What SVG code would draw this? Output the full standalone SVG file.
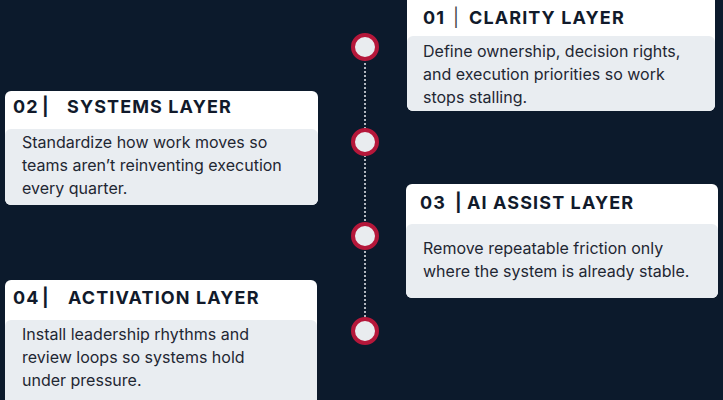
<svg xmlns="http://www.w3.org/2000/svg" width="723" height="400" viewBox="0 0 723 400">
<style>
.hd{fill:#fff}.bd{fill:#e9edf1}
.h{font-family:Inter,"Liberation Sans",sans-serif;font-weight:700;font-size:18px;fill:#111a2b;letter-spacing:1.1px}
.p{font-weight:400;fill:#444}
.t{font-family:Inter,"Liberation Sans",sans-serif;font-size:16px;fill:#1f2733}
.dot{fill:#e9ecef;stroke:#b5173a;stroke-width:4}
</style>
<rect width="723" height="400" fill="#0c1a2c"/>
<g id="connectors"><line x1="365" y1="47" x2="365" y2="331" stroke="#e9ecef" stroke-width="1.5" stroke-dasharray="2 2"/></g>
<g id="dots">
<circle class="dot" cx="365" cy="47" r="12"/>
<circle class="dot" cx="365" cy="142" r="12"/>
<circle class="dot" cx="365" cy="236" r="12"/>
<circle class="dot" cx="365" cy="331" r="12"/>
</g>
<g id="card01">
<rect class="hd" x="407" y="-8" width="308" height="119" rx="6"/>
<rect class="bd" x="407" y="36" width="308" height="75" rx="6"/>
<text class="h" x="423" y="24">01<tspan class="p" x="453">|</tspan><tspan x="469">CLARITY LAYER</tspan></text>
<text class="t" x="423" y="57">Define ownership, decision rights,</text>
<text class="t" x="423" y="80">and execution priorities so work</text>
<text class="t" x="423" y="103">stops stalling.</text>
</g>
<g id="card02">
<rect class="hd" x="5" y="91" width="313" height="114" rx="6"/>
<rect class="bd" x="5" y="129" width="313" height="76" rx="6"/>
<text class="h" x="13" y="113">02<tspan x="42">|</tspan><tspan x="67">SYSTEMS LAYER</tspan></text>
<text class="t" x="22" y="148">Standardize how work moves so</text>
<text class="t" x="22" y="171">teams aren’t reinventing execution</text>
<text class="t" x="22" y="194">every quarter.</text>
</g>
<g id="card03">
<rect class="hd" x="406" y="184" width="312" height="114" rx="6"/>
<rect class="bd" x="406" y="224" width="312" height="74" rx="6"/>
<text class="h" x="420" y="209">03<tspan x="455">|</tspan><tspan x="467">AI ASSIST LAYER</tspan></text>
<text class="t" x="423" y="254">Remove repeatable friction only</text>
<text class="t" x="423" y="277">where the system is already stable.</text>
</g>
<g id="card04">
<rect class="hd" x="5" y="280" width="312" height="128" rx="6"/>
<rect class="bd" x="5" y="320" width="312" height="88" rx="6"/>
<text class="h" x="13" y="304">04<tspan x="42">|</tspan><tspan x="68">ACTIVATION LAYER</tspan></text>
<text class="t" x="22" y="340">Install leadership rhythms and</text>
<text class="t" x="22" y="363">review loops so systems hold</text>
<text class="t" x="22" y="386">under pressure.</text>
</g>
</svg>
